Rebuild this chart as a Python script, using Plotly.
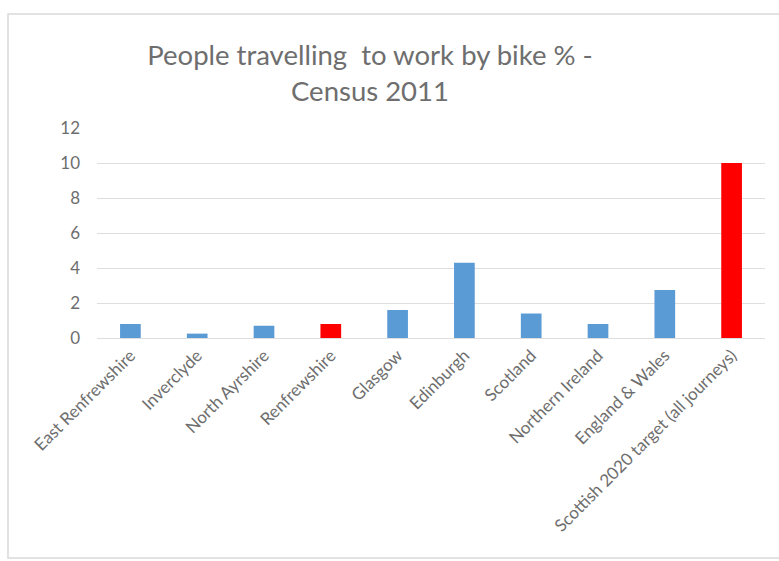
import plotly.graph_objects as go

# Census 2011: share of people cycling to work (%)
categories = [
    "East Renfrewshire", "Inverclyde", "North Ayrshire", "Renfrewshire",
    "Glasgow", "Edinburgh", "Scotland", "Northern Ireland",
    "England & Wales", "Scottish 2020 target (all journeys)",
]
cycle_share = [0.8, 0.25, 0.7, 0.8, 1.6, 4.3, 1.4, 0.8, 2.75, 10]
highlighted = {"Renfrewshire", "Scottish 2020 target (all journeys)"}

y_ticks = [0, 2, 4, 6, 8, 10, 12]

BLUE = "#5B9BD5"
RED = "#FF0000"
TEXT = "#6E6E6E"
GRID = "#DEDEDE"

bar_colors = [RED if c in highlighted else BLUE for c in categories]

fig = go.Figure(
    go.Bar(
        x=categories,
        y=cycle_share,
        marker=dict(color=bar_colors, line=dict(width=0)),
        hoverinfo="x+y",
    )
)

W, H = 779, 561
ml, mr, mt, mb = 97, 14, 128, 223
pw, ph = W - ml - mr, H - mt - mb

def px_x(v):
    return (v - ml) / pw

def px_y(v):
    return (H - mb - v) / ph

fig.update_layout(
    width=W,
    height=H,
    margin=dict(l=ml, r=mr, t=mt, b=mb),
    paper_bgcolor="white",
    plot_bgcolor="white",
    bargap=0.69,
    showlegend=False,
    font=dict(family="Lato, Open Sans, sans-serif", color=TEXT),
    title=dict(
        text="People travelling  to work by bike % -<br>Census 2011",
        x=370 / W,
        xanchor="center",
        y=1 - 65 / H,
        yanchor="middle",
        font=dict(size=27.5, color=TEXT, family="Lato, Open Sans, sans-serif"),
    ),
    xaxis=dict(
        tickangle=-45,
        tickfont=dict(size=17, color=TEXT),
        showgrid=False,
        showline=True,
        linecolor=GRID,
        linewidth=1,
        ticks="",
        fixedrange=True,
    ),
    yaxis=dict(
        range=[0, 12],
        tickvals=y_ticks,
        ticktext=[str(t) for t in y_ticks],
        tickfont=dict(size=17, color=TEXT),
        showgrid=True,
        gridcolor=GRID,
        gridwidth=1,
        zeroline=False,
        showline=False,
        ticks="",
        ticklabelstandoff=16,
        fixedrange=True,
    ),
    shapes=[
        dict(
            type="rect",
            xref="paper",
            yref="paper",
            x0=px_x(8),
            x1=px_x(W + 10),
            y0=px_y(558),
            y1=px_y(14),
            line=dict(color="#D9D9D9", width=1.5),
            fillcolor="rgba(0,0,0,0)",
            layer="below",
        )
    ],
)

fig.write_html("out.html")
